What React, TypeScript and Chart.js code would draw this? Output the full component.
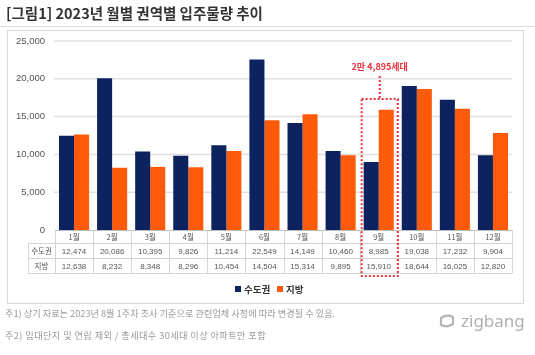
import React, { useEffect, useRef } from "react";
import { Chart, registerables } from "chart.js";

Chart.register(...registerables);

const months = ["1월", "2월", "3월", "4월", "5월", "6월", "7월", "8월", "9월", "10월", "11월", "12월"];
const metroLabel = "수도권";
const localLabel = "지방";
const metro = [12474, 20086, 10395, 9826, 11214, 22549, 14149, 10460, 8985, 19038, 17232, 9904];
const local = [12638, 8232, 8348, 8296, 10454, 14504, 15314, 9895, 15910, 18644, 16025, 12820];
const yTicks = [0, 5000, 10000, 15000, 20000, 25000];
const highlightIndex = 8;
const highlightText = "2만 4,895세대";
const title = "[그림1]  2023년 월별 권역별 입주물량 추이";
const note1 = "주1) 상기 자료는 2023년 8월 1주차 조사 기준으로 관련업체 사정에 따라 변경될 수 있음.";
const note2 = "주2) 임대단지 및 연립 제외 / 총세대수 30세대 이상 아파트만 포함";

const NAVY = "#0c235f";
const ORANGE = "#ff5a0a";
const RED = "#e8323c";
const KR = "'Noto Sans CJK KR', 'Noto Sans', sans-serif";

const fmt = (v: number) => v.toLocaleString("en-US");

const tablePlugin = {
  id: "tablePlugin",
  beforeDraw(chart: any) {
    const ctx = chart.ctx;
    ctx.save();
    ctx.strokeStyle = "#d8d8d8";
    ctx.lineWidth = 1;
    ctx.strokeRect(7.5, 30.5, 516, 273);
    ctx.restore();
  },
  beforeDatasetsDraw(chart: any) {
    const ctx = chart.ctx;
    const { left, right } = chart.chartArea;
    const ys = chart.scales.y;
    ctx.save();
    ctx.strokeStyle = "#e0e0e0";
    ctx.lineWidth = 1.5;
    for (const t of yTicks) {
      if (t === 0) continue;
      const y = ys.getPixelForValue(t);
      ctx.beginPath();
      ctx.moveTo(left - 1, y);
      ctx.lineTo(right, y);
      ctx.stroke();
    }
    ctx.restore();
  },
  afterDatasetsDraw(chart: any) {
    const ctx = chart.ctx;
    const { left, right, bottom } = chart.chartArea;
    const xs = chart.scales.x;
    const n = months.length;
    const w = (right - left) / n;
    const rowH = [13, 15, 15];
    const y0 = bottom;
    const y1 = y0 + rowH[0];
    const y2 = y1 + rowH[1];
    const y3 = y2 + rowH[2];
    const labelLeft = 28;
    ctx.save();
    ctx.lineWidth = 1;
    const hline = (y: number, x0: number, x1: number) => {
      ctx.beginPath();
      ctx.moveTo(x0, Math.round(y) + 0.5);
      ctx.lineTo(x1, Math.round(y) + 0.5);
      ctx.stroke();
    };
    const vline = (x: number, ya: number, yb: number) => {
      ctx.beginPath();
      ctx.moveTo(Math.round(x) + 0.5, ya);
      ctx.lineTo(Math.round(x) + 0.5, yb);
      ctx.stroke();
    };
    ctx.strokeStyle = "#bdbdbd";
    hline(y0, left, right);
    ctx.strokeStyle = "#d4d4d4";
    hline(y1, labelLeft, right);
    hline(y2, labelLeft, right);
    hline(y3, labelLeft, right);
    vline(labelLeft, y1, y3);
    for (let i = 0; i <= n; i++) {
      vline(left + i * w, y0, y3);
    }
    ctx.fillStyle = "#555";
    ctx.textAlign = "center";
    ctx.textBaseline = "middle";
    for (let i = 0; i < n; i++) {
      const cx = xs.getPixelForValue(i);
      ctx.font = `7.5px ${KR}`;
      ctx.fillText(months[i], cx, (y0 + y1) / 2 + 1);
      ctx.font = `8px 'Liberation Sans', Arial, sans-serif`;
      ctx.fillText(fmt(metro[i]), cx, (y1 + y2) / 2 + 1);
      ctx.fillText(fmt(local[i]), cx, (y2 + y3) / 2 + 1);
    }
    ctx.font = `7.5px ${KR}`;
    ctx.fillText(metroLabel, (labelLeft + left) / 2, (y1 + y2) / 2 + 1);
    ctx.fillText(localLabel, (labelLeft + left) / 2, (y2 + y3) / 2 + 1);

    // legend
    ctx.font = `bold 9.5px ${KR}`;
    ctx.textAlign = "left";
    ctx.fillStyle = NAVY;
    ctx.fillRect(235, 286, 6, 6);
    ctx.fillStyle = "#333";
    ctx.fillText(metroLabel, 244, 289.5);
    ctx.fillStyle = ORANGE;
    ctx.fillRect(277, 286, 6, 6);
    ctx.fillStyle = "#333";
    ctx.fillText(localLabel, 286, 289.5);

    // highlight annotation
    const cx = xs.getPixelForValue(highlightIndex);
    const bx0 = cx - w / 2 + 2;
    const bx1 = cx + w / 2;
    const by0 = 99;
    const by1 = y3 + 3;
    ctx.strokeStyle = RED;
    ctx.lineWidth = 2;
    ctx.setLineDash([2, 2]);
    ctx.strokeRect(bx0, by0, bx1 - bx0, by1 - by0);
    ctx.beginPath();
    ctx.moveTo((bx0 + bx1) / 2, 76);
    ctx.lineTo((bx0 + bx1) / 2, by0);
    ctx.stroke();
    ctx.setLineDash([]);
    ctx.fillStyle = RED;
    ctx.font = `bold 9px ${KR}`;
    ctx.textAlign = "center";
    ctx.fillText(highlightText, (bx0 + bx1) / 2, 67);
    ctx.restore();
  },
};

export default function App() {
  const ref = useRef<HTMLCanvasElement>(null);
  useEffect(() => {
    if (!ref.current) return;
    const chart = new Chart(ref.current, {
      type: "bar",
      data: {
        labels: months,
        datasets: [
          { label: metroLabel, data: metro, backgroundColor: NAVY, categoryPercentage: 0.79, barPercentage: 1 },
          { label: localLabel, data: local, backgroundColor: ORANGE, categoryPercentage: 0.79, barPercentage: 1 },
        ],
      },
      options: {
        animation: false,
        responsive: false,
        devicePixelRatio: 1,
        layout: { padding: { left: 0, top: 41, right: 23, bottom: 125 } },
        plugins: { legend: { display: false }, tooltip: { enabled: false } },
        scales: {
          x: { display: false },
          y: {
            min: 0,
            max: 25000,
            afterBuildTicks: (s: any) => {
              s.ticks = yTicks.map((v) => ({ value: v }));
            },
            ticks: {
              padding: 10,
              color: "#555",
              font: { size: 9.5, family: "'Liberation Sans', Arial, sans-serif" },
              callback: (v: any) => fmt(Number(v)),
            },
            grid: { display: false, drawTicks: false },
            border: { display: false },
            afterFit: (s: any) => {
              s.width = 55;
            },
          },
        },
      },
      plugins: [tablePlugin],
    } as any);
    return () => chart.destroy();
  }, []);

  return (
    <div style={{ position: "absolute", left: 0, top: 0, width: 535, height: 355, background: "#fff", overflow: "hidden" }}>
      <canvas ref={ref} width={535} height={355} style={{ position: "absolute", left: 0, top: 0, width: 535, height: 355 }} />
      <div style={{ position: "absolute", left: 6, top: 3, fontFamily: KR, fontWeight: 700, fontSize: 14.5, color: "#333", whiteSpace: "nowrap", lineHeight: "20px" }}>
        {title}
      </div>
      <div style={{ position: "absolute", left: 0, top: 26, width: 535, height: 1, background: "#dedede" }} />
      <div style={{ position: "absolute", left: 5, top: 306, fontFamily: KR, fontSize: 9.2, color: "#9a9a9a", whiteSpace: "nowrap", lineHeight: "14px" }}>
        {note1}
      </div>
      <div style={{ position: "absolute", left: 5, top: 328, fontFamily: KR, fontSize: 9.2, letterSpacing: 0.4, color: "#9a9a9a", whiteSpace: "nowrap", lineHeight: "14px" }}>
        {note2}
      </div>
      <div style={{ position: "absolute", left: 437, top: 311, display: "flex", alignItems: "center", whiteSpace: "nowrap" }}>
        <svg width="20" height="16" viewBox="0 0 20 16" style={{ marginRight: 4 }}>
          <path d="M4 5 Q10 1 16 4 L16 11 Q10 15 4 12 Z" fill="none" stroke="#b5b5b5" strokeWidth="2.2" strokeLinejoin="round" />
        </svg>
        <span style={{ fontFamily: "'Noto Sans', sans-serif", fontSize: 17, color: "#b0b0b0", lineHeight: "20px" }}>zigbang</span>
      </div>
    </div>
  );
}
